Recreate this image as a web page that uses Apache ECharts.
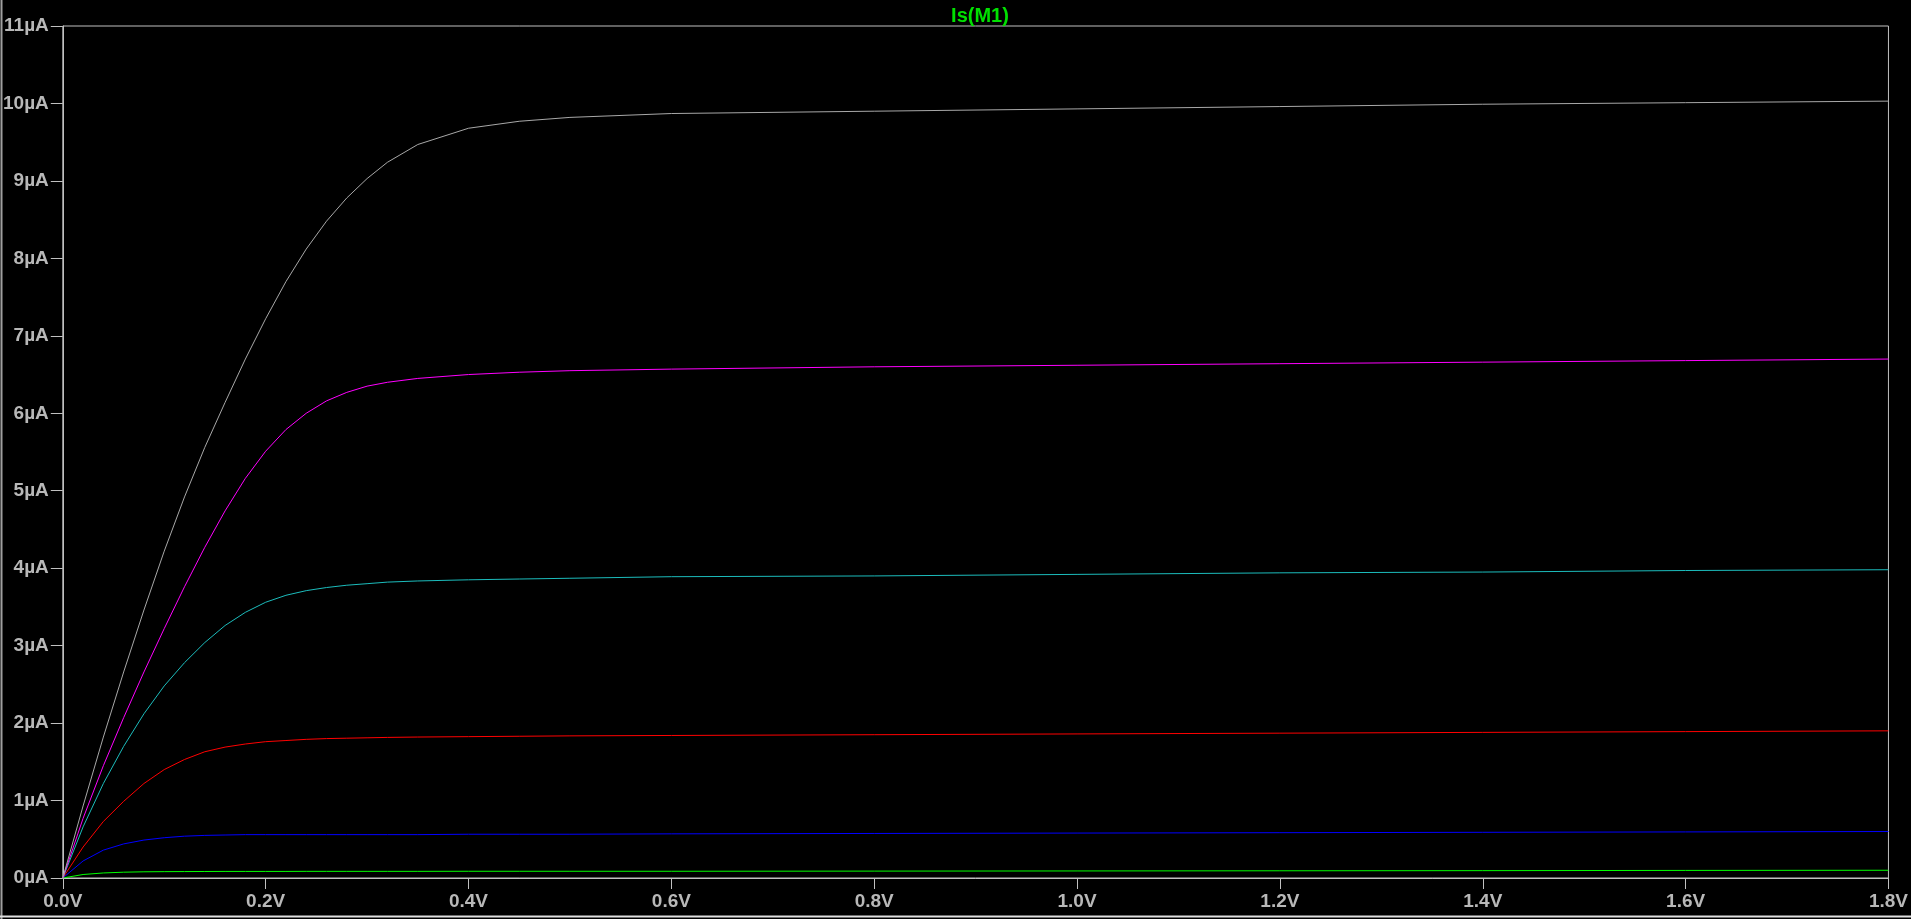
<!DOCTYPE html>
<html>
<head>
<meta charset="utf-8">
<title>Is(M1)</title>
<script src="https://cdn.jsdelivr.net/npm/echarts@6/dist/echarts.min.js"></script>
<style>
  html, body { margin: 0; padding: 0; background: #000; }
  #chart { width: 1911px; height: 919px; }
</style>
</head>
<body>
<div id="chart"></div>
<script>
// drain voltage sweep (V)
var vds = [0, 0.02, 0.04, 0.06, 0.08, 0.1, 0.12, 0.14, 0.16, 0.18, 0.2, 0.22, 0.24, 0.26, 0.28,
    0.3, 0.32, 0.35, 0.4, 0.45, 0.5, 0.6, 0.8, 1.0, 1.2, 1.4, 1.6, 1.8];

// source current per gate step (uA)
var isGray = [0, 0.93, 1.82, 2.66, 3.46, 4.22, 4.92, 5.56, 6.14, 6.70, 7.22, 7.70, 8.12, 8.48, 8.78,
    9.03, 9.24, 9.47, 9.68, 9.77, 9.82, 9.87, 9.90, 9.93, 9.96, 9.99, 10.01, 10.03];
var isMagenta = [0, 0.77, 1.45, 2.07, 2.66, 3.22, 3.76, 4.27, 4.74, 5.16, 5.51, 5.79, 6.00, 6.16, 6.27,
    6.35, 6.40, 6.45, 6.50, 6.53, 6.55, 6.57, 6.60, 6.62, 6.64, 6.66, 6.68, 6.70];
var isCyan = [0, 0.66, 1.22, 1.70, 2.12, 2.48, 2.78, 3.04, 3.26, 3.43, 3.56, 3.65, 3.71, 3.75, 3.78,
    3.80, 3.82, 3.835, 3.85, 3.86, 3.87, 3.89, 3.90, 3.92, 3.94, 3.95, 3.97, 3.98];
var isRed = [0, 0.40, 0.73, 0.99, 1.22, 1.40, 1.53, 1.63, 1.69, 1.73, 1.76, 1.775, 1.79, 1.80, 1.805,
    1.81, 1.815, 1.82, 1.825, 1.83, 1.835, 1.84, 1.85, 1.86, 1.87, 1.88, 1.89, 1.90];
var isBlue = [0, 0.22, 0.36, 0.44, 0.49, 0.52, 0.54, 0.55, 0.555, 0.56, 0.56, 0.56, 0.56, 0.56, 0.56,
    0.56, 0.56, 0.56, 0.565, 0.565, 0.565, 0.57, 0.575, 0.58, 0.585, 0.59, 0.595, 0.60];
var isGreen = [0, 0.045, 0.065, 0.075, 0.08, 0.082, 0.083, 0.084, 0.085, 0.085, 0.085, 0.085, 0.086, 0.086, 0.086,
    0.086, 0.086, 0.086, 0.087, 0.087, 0.087, 0.087, 0.089, 0.091, 0.093, 0.095, 0.098, 0.10];

var traces = [
    { data: isGreen, color: '#00ff00' },
    { data: isBlue, color: '#0000ff' },
    { data: isRed, color: '#ff0000' },
    { data: isCyan, color: '#1cbcbc' },
    { data: isMagenta, color: '#ff00ff' },
    { data: isGray, color: '#a8a8a8' }
];

var chart = echarts.init(document.getElementById('chart'));

var labelStyle = {
    color: '#b8b8b8',
    fontFamily: 'Liberation Sans, Arial, sans-serif',
    fontWeight: 'bold',
    fontSize: 19
};

var option = {
    backgroundColor: '#000000',
    animation: false,
    title: {
        text: 'Is(M1)',
        left: 975,
        textAlign: 'center',
        top: 1,
        textStyle: {
            color: '#00e000',
            fontFamily: 'Liberation Sans, Arial, sans-serif',
            fontWeight: 'bold',
            fontSize: 20
        }
    },
    grid: {
        left: 62,
        right: 14,
        top: 26,
        bottom: 41,
        show: true,
        borderColor: '#c0c0c0',
        borderWidth: 1
    },
    xAxis: {
        type: 'value',
        min: 0,
        max: 1.8,
        interval: 0.2,
        axisLine: { lineStyle: { color: '#c0c0c0', width: 1 } },
        axisTick: { show: true, length: 11, lineStyle: { color: '#c0c0c0' } },
        splitLine: { show: false },
        axisLabel: Object.assign({
            margin: 14,
            showMaxLabel: true,
            formatter: function (v) { return v.toFixed(1) + 'V'; }
        }, labelStyle)
    },
    yAxis: {
        type: 'value',
        min: 0,
        max: 11,
        interval: 1,
        axisLine: { show: true, lineStyle: { color: '#c0c0c0', width: 1 } },
        axisTick: { show: true, length: 12, lineStyle: { color: '#c0c0c0' } },
        splitLine: { show: false },
        axisLabel: Object.assign({
            margin: 14,
            formatter: function (v) { return v + 'µA'; }
        }, labelStyle)
    },
    graphic: [
        { type: 'line', shape: { x1: 1.5, y1: 0, x2: 1.5, y2: 919 }, style: { stroke: '#a0a0a0', lineWidth: 2 } },
        { type: 'line', shape: { x1: 0, y1: 916.5, x2: 1911, y2: 916.5 }, style: { stroke: '#e0e0e0', lineWidth: 2 } }
    ],
    series: traces.map(function (t) {
        return {
            type: 'line',
            data: vds.map(function (v, i) { return [v, t.data[i]]; }),
            showSymbol: false,
            smooth: false,
            lineStyle: { color: t.color, width: 1 },
            itemStyle: { color: t.color }
        };
    })
};

chart.setOption(option);
</script>
</body>
</html>
